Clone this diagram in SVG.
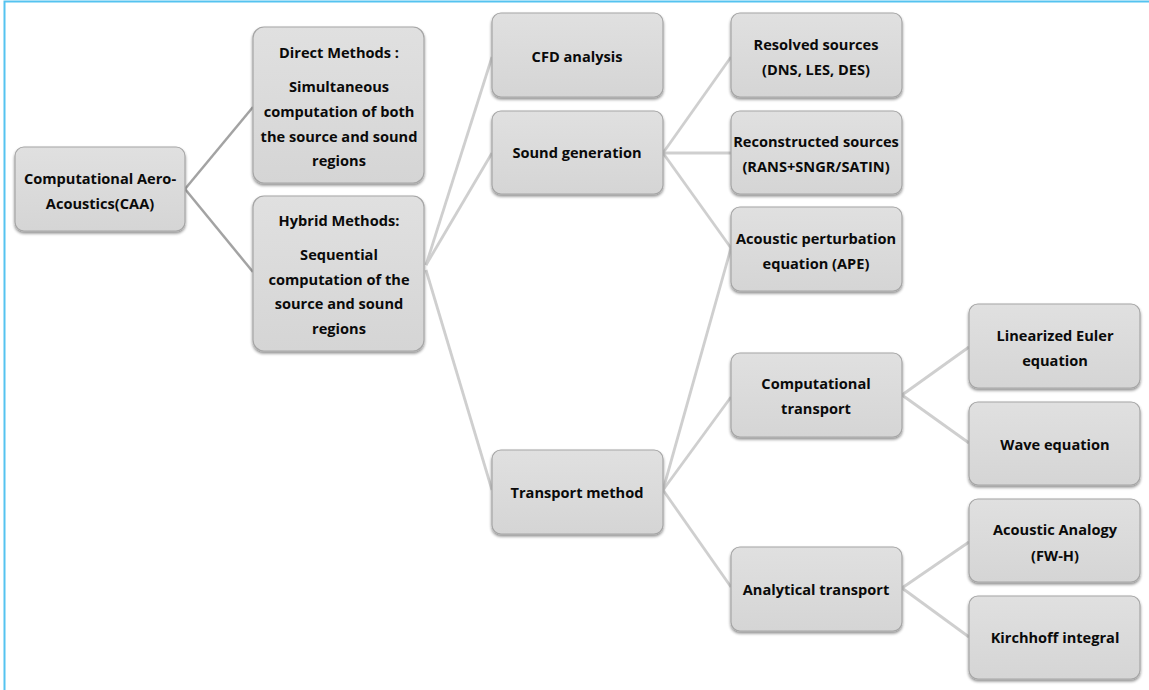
<svg xmlns="http://www.w3.org/2000/svg" width="1149" height="690" viewBox="0 0 1149 690">
<defs>
<linearGradient id="g" x1="0" y1="0" x2="0" y2="1">
<stop offset="0" stop-color="#e0e0e0"/>
<stop offset="1" stop-color="#d5d5d5"/>
</linearGradient>
<filter id="sh" x="-10%" y="-10%" width="120%" height="130%">
<feGaussianBlur in="SourceAlpha" stdDeviation="1.5"/>
<feOffset dx="0" dy="2" result="b"/>
<feComponentTransfer><feFuncA type="linear" slope="0.45"/></feComponentTransfer>
<feMerge><feMergeNode/><feMergeNode in="SourceGraphic"/></feMerge>
</filter>
</defs>
<style>
.n rect{fill:url(#g);stroke:#a6a6a6;stroke-width:1.2;filter:url(#sh)}
.n text{font-family:"Open Sans","Noto Sans","DejaVu Sans",sans-serif;font-weight:bold;font-size:14.6px;fill:#0a0a0a;text-anchor:middle}
.c1{stroke:#a3a3a3;stroke-width:2.5;fill:none}
.c2{stroke:#cfcfcf;stroke-width:2.8;fill:none}
.bd{stroke:#55c3f0;stroke-width:2;fill:none}
</style>
<rect width="1149" height="690" fill="#fff"/>
<path class="bd" d="M4.5 690 V1.5 H1149"/>
<g id="connectors">
<line class="c1" x1="185" y1="189" x2="253" y2="107"/>
<line class="c1" x1="185" y1="189" x2="253" y2="272"/>
<line class="c2" x1="426" y1="265" x2="492" y2="57"/>
<line class="c2" x1="426" y1="265" x2="492" y2="153"/>
<line class="c2" x1="426" y1="270" x2="492" y2="490"/>
<line class="c2" x1="663" y1="153" x2="731" y2="57"/>
<line class="c2" x1="663" y1="153" x2="731" y2="153"/>
<line class="c2" x1="663" y1="153" x2="731" y2="248"/>
<line class="c2" x1="663" y1="490" x2="731" y2="248"/>
<line class="c2" x1="663" y1="490" x2="731" y2="397"/>
<line class="c2" x1="663" y1="490" x2="731" y2="587"/>
<line class="c2" x1="902" y1="395" x2="969" y2="347"/>
<line class="c2" x1="902" y1="395" x2="969" y2="443"/>
<line class="c2" x1="902" y1="588" x2="969" y2="542"/>
<line class="c2" x1="902" y1="588" x2="969" y2="637"/>
</g>
<g id="caa" class="n"><rect x="15" y="147" width="170" height="84" rx="9"/><text x="100" y="184">Computational Aero-</text><text x="100" y="209">Acoustics(CAA)</text></g>
<g id="direct" class="n"><rect x="253" y="27" width="171" height="156" rx="11"/><text x="339" y="58">Direct Methods :</text><text x="339" y="92">Simultaneous</text><text x="339" y="117">computation of both</text><text x="339" y="142">the source and sound</text><text x="339" y="166">regions</text></g>
<g id="hybrid" class="n"><rect x="253" y="196" width="171" height="155" rx="11"/><text x="339" y="226">Hybrid Methods:</text><text x="339" y="260">Sequential</text><text x="339" y="285">computation of the</text><text x="339" y="309">source and sound</text><text x="339" y="334">regions</text></g>
<g id="cfd" class="n"><rect x="492" y="13" width="171" height="84" rx="9"/><text x="577" y="62">CFD analysis</text></g>
<g id="soundgen" class="n"><rect x="492" y="111" width="171" height="83" rx="9"/><text x="577" y="158">Sound generation</text></g>
<g id="transport" class="n"><rect x="492" y="450" width="171" height="84" rx="9"/><text x="577" y="498">Transport method</text></g>
<g id="resolved" class="n"><rect x="731" y="13" width="171" height="84" rx="9"/><text x="816" y="50">Resolved sources</text><text x="816" y="75">(DNS, LES, DES)</text></g>
<g id="reconstructed" class="n"><rect x="731" y="111" width="171" height="83" rx="9"/><text x="816" y="147">Reconstructed sources</text><text x="816" y="172">(RANS+SNGR/SATIN)</text></g>
<g id="ape" class="n"><rect x="731" y="207" width="171" height="84" rx="9"/><text x="816" y="244">Acoustic perturbation</text><text x="816" y="269">equation (APE)</text></g>
<g id="comptransport" class="n"><rect x="731" y="353" width="171" height="84" rx="9"/><text x="816" y="389">Computational</text><text x="816" y="414">transport</text></g>
<g id="analytical" class="n"><rect x="731" y="547" width="171" height="84" rx="9"/><text x="816" y="595">Analytical transport</text></g>
<g id="euler" class="n"><rect x="969" y="304" width="171" height="84" rx="9"/><text x="1055" y="341">Linearized Euler</text><text x="1055" y="366">equation</text></g>
<g id="wave" class="n"><rect x="969" y="402" width="171" height="83" rx="9"/><text x="1055" y="450">Wave equation</text></g>
<g id="analogy" class="n"><rect x="969" y="499" width="171" height="83" rx="9"/><text x="1055" y="535">Acoustic Analogy</text><text x="1055" y="561">(FW-H)</text></g>
<g id="kirchhoff" class="n"><rect x="969" y="596" width="171" height="83" rx="9"/><text x="1055" y="643">Kirchhoff integral</text></g>
</svg>
